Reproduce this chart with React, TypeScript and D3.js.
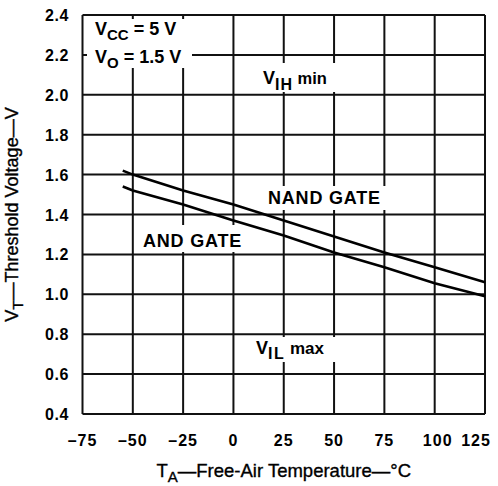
import React from "react";
import * as d3 from "d3";

const temps = [-55, -50, -25, 0, 25, 50, 75, 100, 125];
const nandGate = [1.62, 1.6, 1.52, 1.45, 1.37, 1.29, 1.21, 1.135, 1.06];
const andGate = [1.54, 1.52, 1.45, 1.37, 1.295, 1.21, 1.135, 1.055, 0.99];
const xTicks = [-75, -50, -25, 0, 25, 50, 75, 100, 125];
const yTicks = [0.4, 0.6, 0.8, 1.0, 1.2, 1.4, 1.6, 1.8, 2.0, 2.2, 2.4];

const W = 498;
const H = 486;
const FONT = "'Liberation Sans', Arial, Helvetica, sans-serif";

export default function App() {
  const x = d3.scaleLinear().domain([-75, 125]).range([82.5, 485]);
  const y = d3.scaleLinear().domain([0.4, 2.4]).range([414, 15]);
  const line = d3
    .line<[number, number]>()
    .x((d) => x(d[0]))
    .y((d) => y(d[1]));
  const nandPts = temps.map((t, i) => [t, nandGate[i]] as [number, number]);
  const andPts = temps.map((t, i) => [t, andGate[i]] as [number, number]);

  const gridColor = "#111";
  return (
    <svg
      width={W}
      height={H}
      style={{ position: "absolute", left: 0, top: 0, background: "#fff" }}
      fontFamily={FONT}
    >
      <rect x={0} y={0} width={W} height={H} fill="#fff" />
      {/* grid */}
      {xTicks.map((t) => (
        <line key={"gx" + t} x1={x(t)} x2={x(t)} y1={y(2.4)} y2={y(0.4)} stroke={gridColor} strokeWidth={2} />
      ))}
      {yTicks.map((v) => (
        <line key={"gy" + v} x1={x(-75)} x2={x(125)} y1={y(v)} y2={y(v)} stroke={gridColor} strokeWidth={2} />
      ))}
      {/* white boxes behind labels */}
      <rect x={87} y={19} width={105} height={49} fill="#fff" />
      <rect x={258} y={63} width={82} height={29} fill="#fff" />
      <rect x={252} y={337} width={88} height={25} fill="#fff" />
      <rect x={265} y={186} width={123} height={24} fill="#fff" />
      <rect x={140} y={225} width={106} height={27} fill="#fff" />
      {/* data lines */}
      <path d={line(nandPts) || ""} fill="none" stroke="#000" strokeWidth={2.6} />
      <path d={line(andPts) || ""} fill="none" stroke="#000" strokeWidth={2.6} />

      {/* y ticks */}
      {yTicks.map((v) => (
        <text key={"ty" + v} x={69} y={y(v) + 6} textAnchor="end" fontSize={16} fontWeight="bold" letterSpacing={0.6} fill="#000">
          {v.toFixed(1)}
        </text>
      ))}
      {/* x ticks */}
      {xTicks.map((t, i) => (
        <text
          key={"tx" + t}
          x={x(t) + (i === xTicks.length - 1 ? -9 : i === xTicks.length - 2 ? 3 : 0)}
          y={446}
          textAnchor="middle"
          fontSize={16}
          fontWeight="bold"
          letterSpacing={1}
          fill="#000"
        >
          {t < 0 ? "\u2013" + Math.abs(t) : String(t)}
        </text>
      ))}

      {/* legend */}
      <text x={95} y={35} fontSize={18} fontWeight="bold" fill="#000">
        V<tspan fontSize={15} dy={5}>CC</tspan>
        <tspan dy={-5}> = 5 V</tspan>
      </text>
      <text x={95} y={63} fontSize={18} fontWeight="bold" fill="#000">
        V<tspan fontSize={15} dy={5}>O</tspan>
        <tspan dy={-5}> = 1.5 V</tspan>
      </text>

      {/* threshold labels */}
      <text x={263} y={84} fontSize={18} fontWeight="bold" fill="#000">
        V<tspan fontSize={16} dy={6} letterSpacing={1}>IH</tspan>
        <tspan fontSize={16.5} dy={-6}> min</tspan>
      </text>
      <text x={256} y={354} fontSize={18} fontWeight="bold" fill="#000">
        V<tspan fontSize={16} dy={5} letterSpacing={1.5}>IL</tspan>
        <tspan fontSize={17} dy={-5}> max</tspan>
      </text>

      <text x={268} y={204} fontSize={18} fontWeight="bold" letterSpacing={0.8} fill="#000">
        NAND GATE
      </text>
      <text x={143} y={247} fontSize={18} fontWeight="bold" letterSpacing={0.8} fill="#000">
        AND GATE
      </text>

      {/* axis titles */}
      <text
        transform={`translate(18, ${(y(0.4) + y(2.4)) / 2}) rotate(-90)`}
        textAnchor="middle"
        fontSize={18}
        fill="#000"
        stroke="#000"
        strokeWidth={0.35}
      >
        V<tspan fontSize={15} dy={5}>T</tspan>
        <tspan dy={-5}>—Threshold Voltage—V</tspan>
      </text>
      <text
        x={(x(-75) + x(125)) / 2}
        y={477}
        textAnchor="middle"
        fontSize={18.5}
        fill="#000"
        stroke="#000"
        strokeWidth={0.35}
      >
        T<tspan fontSize={15} dy={5}>A</tspan>
        <tspan dy={-5}>—Free-Air Temperature—°C</tspan>
      </text>
    </svg>
  );
}
